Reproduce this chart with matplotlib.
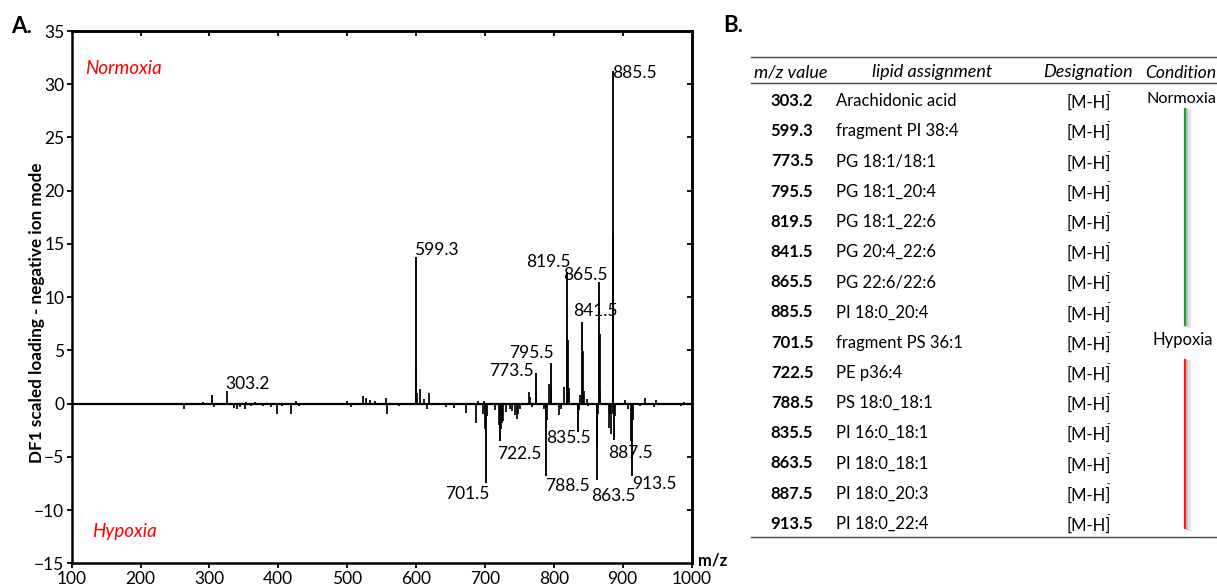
import matplotlib
matplotlib.use("Agg")
import matplotlib.pyplot as plt
from matplotlib.lines import Line2D

plt.rcParams["font.family"] = ["Lato", "DejaVu Sans"]

# ---- spectrum: assigned peaks (m/z, DF1 scaled loading) ----
label_mz = [303.2, 599.3, 773.5, 795.5, 819.5, 841.5, 865.5, 885.5,
            701.5, 722.5, 788.5, 835.5, 863.5, 887.5, 913.5]
label_loading = [0.8, 13.8, 2.9, 3.8, 12.4, 7.7, 11.4, 31.2,
                 -7.5, -3.5, -6.8, -2.7, -7.2, -3.45, -6.8]

# ---- spectrum: remaining (unassigned) lines ----
peak_mz = [154, 263, 290, 307, 325.5, 336, 340, 345, 351, 353, 360, 366, 378,
           390, 398, 405, 419, 426, 430, 462, 500, 506, 520, 523, 527, 533,
           541, 557, 558, 575, 600.3, 601.3, 605.5, 612, 616.5, 619, 643, 655,
           672, 686.5, 690, 697, 698.5, 700.5, 702.5, 715, 721, 723.5, 725,
           727, 731, 737, 739.5, 743, 746, 748, 751, 763.5, 766, 768, 774.5,
           786.5, 789.5, 792.5, 796.5, 808, 810, 815.5, 820.5, 821.5, 834.5,
           836.5, 838, 842.5, 843.5, 848, 850, 862.5, 864.5, 866.5, 867.5,
           880, 881, 882.7, 886.5, 886.5, 888.5, 904, 908, 912.5, 914.5, 925,
           932.5, 945, 949, 970, 975, 985, 989]
peak_loading = [0.05, -0.5, 0.15, -0.3, 1.15, -0.4, -0.55, -0.35, -0.5, 0.15,
                -0.2, 0.15, -0.2, -0.3, -1.0, -0.25, -1.0, 0.25, -0.2, -0.15,
                0.2, -0.3, -0.15, 0.75, 0.5, 0.35, 0.2, 0.5, -1.0, -0.2, 4.0,
                1.0, 1.4, 0.4, -0.55, 0.95, -0.3, -0.4, -0.9, -1.8, 0.2, -1.0,
                0.2, -2.4, -1.2, -0.6, -2.0, -2.4, -1.8, -1.6, -0.8, -0.5,
                -0.7, -1.1, -1.4, -1.0, -0.5, 1.1, 0.6, -0.3, 1.2, -0.5, -1.5,
                1.8, 1.5, -1.1, -0.5, 1.6, 6.0, 1.5, -1.0, -0.6, 0.8, 4.9, 1.2,
                0.4, -0.2, -4.0, -1.0, 6.5, 1.2, -2.3, -1.0, -2.9, 15.9, -1.0,
                -1.2, 0.3, -0.5, -3.5, -1.5, -0.2, 0.55, -0.3, 0.3, -0.1, 0.1,
                -0.2, 0.15]

x_ticks = [100, 200, 300, 400, 500, 600, 700, 800, 900, 1000]
y_ticks = [-15, -10, -5, 0, 5, 10, 15, 20, 25, 30, 35]

# ---- table of assignments ----
table_mz = ["303.2", "599.3", "773.5", "795.5", "819.5", "841.5", "865.5",
            "885.5", "701.5", "722.5", "788.5", "835.5", "863.5", "887.5",
            "913.5"]
table_lipid = ["Arachidonic acid", "fragment PI 38:4", "PG 18:1/18:1",
               "PG 18:1_20:4", "PG 18:1_22:6", "PG 20:4_22:6", "PG 22:6/22:6",
               "PI 18:0_20:4", "fragment PS 36:1", "PE p36:4", "PS 18:0_18:1",
               "PI 16:0_18:1", "PI 18:0_18:1", "PI 18:0_20:3", "PI 18:0_22:4"]
table_designation = ["[M-H]"] * 15
table_headers = ["m/z value", "lipid assignment", "Designation", "Condition"]
condition_names = ["Normoxia", "Hypoxia"]
condition_colors = ["#1e9e2e", "#ff1a1a"]

# label text offsets from the peak tip, in pixels: (dx, dy, ha)
label_offsets = [(13.8, 6.5, "left"), (-1.2, 1.2, "left"), (-1.4, -2.9, "right"),
                 (3.4, 5.6, "right"), (3.4, 4.7, "right"), (-9.4, 5.3, "left"),
                 (-35.3, 2.0, "left"), (-0.7, -7.0, "left"),
                 (3.4, -15.7, "right"), (-3.5, -18.3, "left"),
                 (-0.8, -14.6, "left"), (-32.3, -10.7, "left"),
                 (-6.0, -20.4, "left"), (-5.7, -18.1, "left"),
                 (0.0, -13.0, "left")]

W, H = 1217, 586
fig = plt.figure(figsize=(W / 100, H / 100), dpi=100)


def fx(px):
    return px / W


def fy(py):
    return 1 - py / H


# ================= panel A: DF1 loading spectrum =================
AX_L, AX_R, AX_T, AX_B = 71.7, 691.5, 31.0, 563.3
ax = fig.add_axes([fx(AX_L), fy(AX_B), fx(AX_R) - fx(AX_L), fy(AX_T) - fy(AX_B)])
ax.set_xlim(100, 1000)
ax.set_ylim(-15, 35)

ax.axhline(0, color="black", lw=1.6, zorder=2)
ax.vlines(peak_mz, 0, peak_loading, color="black", lw=1.25, zorder=3)
ax.vlines(label_mz, 0, label_loading, color="black", lw=1.35, zorder=3)

for mz, val, (dx, dy, ha) in zip(label_mz, label_loading, label_offsets):
    ax.annotate(f"{mz:.1f}", xy=(mz, val), xytext=(dx, dy),
                textcoords="offset pixels", ha=ha, va="baseline",
                fontsize=12.5, color="black", zorder=4)

for s in ax.spines.values():
    s.set_linewidth(1.8)

ax.set_xticks(x_ticks)
ax.set_yticks(y_ticks)
ax.tick_params(direction="out", length=3.8, width=1.3, labelsize=12.5, pad=1.5)

sx = ax.secondary_xaxis("top")
sx.set_xticks(x_ticks[1:-1])
sx.tick_params(direction="in", length=3.8, width=1.3, labeltop=False)
sx.spines["top"].set_linewidth(1.8)
sy = ax.secondary_yaxis("right")
sy.set_yticks(y_ticks[1:-1])
sy.tick_params(direction="in", length=3.8, width=1.3, labelright=False)
sy.spines["right"].set_linewidth(1.8)

ax.set_ylabel("DF1 scaled loading - negative ion mode", fontsize=12.3,
              fontweight="bold")
ax.yaxis.set_label_coords(-(AX_L - 45) / (AX_R - AX_L),
                          (AX_B - 313) / (AX_B - AX_T))

ax.text(120, 31.5, condition_names[0], color="red", style="italic",
        fontsize=13.5, va="center", ha="left")
ax.text(130, -12.0, condition_names[1], color="red", style="italic",
        fontsize=13.5, va="center", ha="left")

fig.text(fx(698), fy(566), "m/z", fontsize=12, fontweight="bold",
         ha="left", va="baseline")
fig.text(fx(11), fy(33), "A.", fontsize=16, fontweight="bold",
         ha="left", va="baseline")
fig.text(fx(723), fy(32), "B.", fontsize=16, fontweight="bold",
         ha="left", va="baseline")

# ================= panel B: assignment table =================
rule_color = "#444444"
for yy in (57.3, 83.3, 537.3):
    fig.add_artist(Line2D([fx(751), fx(1217)], [fy(yy), fy(yy)],
                          color=rule_color, lw=1.0))

head_base = 77.5
fig.text(fx(754), fy(head_base), table_headers[0], style="italic",
         fontsize=13, ha="left", va="baseline")
fig.text(fx(932.5), fy(head_base), table_headers[1], style="italic",
         fontsize=13, ha="center", va="baseline")
fig.text(fx(1087.5), fy(head_base), table_headers[2], style="italic",
         fontsize=13, ha="center", va="baseline")
fig.text(fx(1145), fy(head_base), table_headers[3], style="italic",
         fontsize=12.6, ha="left", va="baseline")

row0, row_step = 106.0, 30.2
for i, (mz, lip, des) in enumerate(zip(table_mz, table_lipid, table_designation)):
    yb = row0 + i * row_step
    fig.text(fx(813.3), fy(yb), mz, fontweight="bold", fontsize=12,
             ha="right", va="baseline")
    fig.text(fx(836), fy(yb), lip, fontsize=12, ha="left", va="baseline")
    fig.text(fx(1066), fy(yb + 2), des, fontsize=12, ha="left",
             va="baseline")
    fig.text(fx(1108.5), fy(yb - 12), "-", fontsize=7, ha="center",
             va="baseline")

fig.text(fx(1146), fy(103.3), condition_names[0], fontsize=11.7,
         ha="left", va="baseline")
fig.text(fx(1153), fy(345), condition_names[1], fontsize=12,
         ha="left", va="baseline")

# condition brackets with soft shadow
for (y0, y1), col in zip([(109.0, 325.0), (360.0, 528.3)], condition_colors):
    for off, c, w in ((3.5, "#e4e4e4", 2.2), (2.2, "#c4c4c4", 1.6)):
        fig.add_artist(Line2D([fx(1185 + off)] * 2, [fy(y0 + 1), fy(y1 + 1)],
                              color=c, lw=w))
    fig.add_artist(Line2D([fx(1185)] * 2, [fy(y0), fy(y1)], color=col, lw=1.6))

fig.savefig("out.png", dpi=100)
